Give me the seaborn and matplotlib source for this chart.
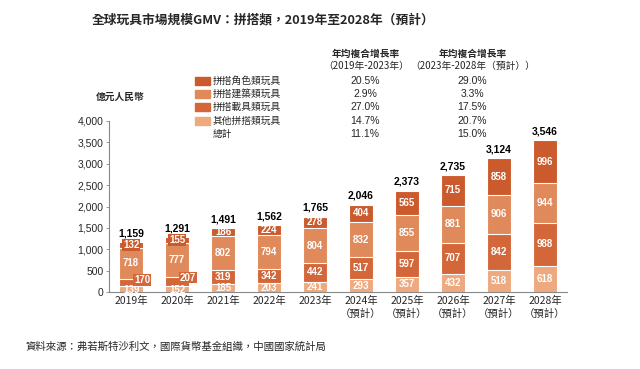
import matplotlib
matplotlib.use("Agg")
import matplotlib.pyplot as plt
import seaborn as sns
import numpy as np
import pandas as pd

# data, bottom -> top in each stack
years = ["2019年", "2020年", "2021年", "2022年", "2023年",
         "2024年\n（預計）", "2025年\n（預計）", "2026年\n（預計）",
         "2027年\n（預計）", "2028年\n（預計）"]
other = [139, 152, 185, 203, 241, 293, 357, 432, 518, 618]
vehicle = [170, 207, 319, 342, 442, 517, 597, 707, 842, 988]
building = [718, 777, 802, 794, 804, 832, 855, 881, 906, 944]
character = [132, 155, 186, 224, 278, 404, 565, 715, 858, 996]
totals = [1159, 1291, 1491, 1562, 1765, 2046, 2373, 2735, 3124, 3546]

legend_names = ["拼搭角色類玩具", "拼搭建築類玩具", "拼搭載具類玩具", "其他拼搭類玩具", "總計"]
cagr_1923 = ["20.5%", "2.9%", "27.0%", "14.7%", "11.1%"]
cagr_2328 = ["29.0%", "3.3%", "17.5%", "20.7%", "15.0%"]

c_char = "#CB5A2C"
c_build = "#E08A5C"
c_veh = "#D4673A"
c_other = "#EEA97E"

sns.set_theme(style="white")
cjk = ["Noto Sans CJK TC", "DejaVu Sans"]
num = ["Liberation Sans", "DejaVu Sans"]
plt.rcParams["font.family"] = cjk

fig = plt.figure(figsize=(6.4, 3.69), dpi=100)
ax = fig.add_axes([109 / 640, 1 - 292 / 369, (567 - 109) / 640, (292 - 121) / 369])

layers = [("other", other, c_other), ("vehicle", vehicle, c_veh),
          ("building", building, c_build), ("character", character, c_char)]
df = pd.DataFrame({"year": years})
cum = np.zeros(len(years))
cums = []
for name, vals, col in layers:
    cum = cum + np.array(vals)
    cums.append(cum.copy())
# draw tallest first so lower layers sit on top
for (name, vals, col), top in reversed(list(zip(layers, cums))):
    df["v"] = top
    sns.barplot(data=df, x="year", y="v", color=col, width=0.54,
                edgecolor="white", linewidth=0.8, saturation=1, ax=ax)

# segment labels
for (name, vals, col), top in zip(layers, cums):
    for i, v in enumerate(vals):
        y = top[i] - v / 2
        x = i
        kw = {}
        if name == "vehicle" and i < 2:
            x = i + 0.24
            y = top[i] - 20
            kw = dict(bbox=dict(boxstyle="square,pad=0.1", fc=col, ec="none"))
        if name == "other" and i < 2:
            y = 55
        if name == "character" and i < 2:
            kw = dict(bbox=dict(boxstyle="square,pad=0.1", fc=col, ec="none"))
        ax.text(x, y, f"{v}", ha="center", va="center", color="white",
                fontsize=7, fontweight="bold", family=num, **kw)

for i, t in enumerate(totals):
    ax.text(i, t + 85, f"{t:,}", ha="center", va="bottom", color="black",
            fontsize=7.5, fontweight="bold", family=num)

ax.set_xlim(-0.48, 9.48)
ax.set_ylim(0, 4000)
ax.set_yticks(range(0, 4001, 500))
ax.set_yticklabels([f"{v:,}" for v in range(0, 4001, 500)], family=num, fontsize=7.5)
ax.tick_params(axis="y", length=2, width=0.6, color="#888888", pad=2, left=True)
ax.tick_params(axis="x", length=0, pad=3)
ax.set_xticks(range(len(years)))
ax.set_xticklabels(years, fontsize=7.5, linespacing=1.3)
ax.set_xlabel("")
ax.set_ylabel("")
for s in ["top", "right"]:
    ax.spines[s].set_visible(False)
for s in ["left", "bottom"]:
    ax.spines[s].set_color("#888888")
    ax.spines[s].set_linewidth(0.8)

# title, unit, legend table, source
fig.text(263 / 640, 1 - 20 / 369, "全球玩具市場規模GMV：拼搭類，2019年至2028年（預計）",
         ha="center", va="center", fontsize=9.2, fontweight="bold")
fig.text(120 / 640, 1 - 97 / 369, "億元人民幣", ha="center", va="center",
         fontsize=7, fontweight="bold")

fig.text(366 / 640, 1 - 54 / 369, "年均複合增長率", ha="center", va="center",
         fontsize=7, fontweight="bold")
fig.text(366 / 640, 1 - 66 / 369, "（2019年-2023年）", ha="center", va="center", fontsize=7)
fig.text(473 / 640, 1 - 54 / 369, "年均複合增長率", ha="center", va="center",
         fontsize=7, fontweight="bold")
fig.text(473 / 640, 1 - 66 / 369, "（2023年-2028年（預計））", ha="center", va="center", fontsize=7)

row_y = [81, 94, 107, 121, 134]
sq_cols = [c_char, c_build, c_veh, c_other, None]
for k in range(5):
    yy = 1 - row_y[k] / 369
    if sq_cols[k]:
        fig.patches.append(plt.Rectangle((195 / 640, yy - 4 / 369), 15 / 640, 8 / 369,
                                         transform=fig.transFigure, color=sq_cols[k]))
    fig.text(213 / 640, yy, legend_names[k], ha="left", va="center", fontsize=7)
    fig.text(365 / 640, yy, cagr_1923[k], ha="center", va="center", fontsize=7.5, family=num)
    fig.text(472 / 640, yy, cagr_2328[k], ha="center", va="center", fontsize=7.5, family=num)

fig.text(25 / 640, 1 - 347 / 369, "資料來源：弗若斯特沙利文，國際貨幣基金組織，中國國家統計局",
         ha="left", va="center", fontsize=7.5)

fig.savefig("out.png", dpi=100)
